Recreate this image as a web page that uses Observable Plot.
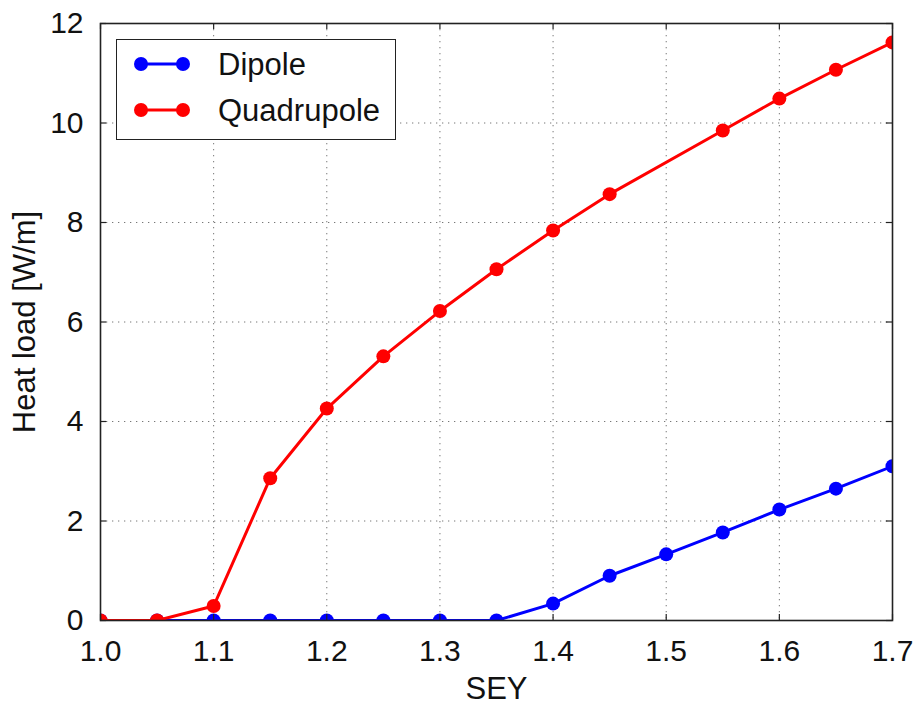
<!DOCTYPE html>
<html>
<head>
<meta charset="utf-8">
<script src="https://cdn.jsdelivr.net/npm/d3@7"></script>
<script src="https://cdn.jsdelivr.net/npm/@observablehq/plot@0.6"></script>
<style>
  html, body { margin: 0; padding: 0; background: #fff; }
  #wrap { position: relative; width: 914px; height: 704px; font-family: "Liberation Sans", Arial, Helvetica, sans-serif; }
  #wrap svg text { }
  #legend { position: absolute; left: 116px; top: 39px; width: 278px; height: 99px; border: 1.5px solid #222; background: #fff; }
  .entry { position: absolute; left: 0; height: 40px; display: flex; align-items: center; }
  .entry span { position: absolute; left: 101px; font-size: 31px; color: #111; white-space: nowrap; line-height: 1; }
</style>
</head>
<body>
<div id="wrap"></div>
<script>
const seyDipole = [1.0, 1.05, 1.1, 1.15, 1.2, 1.25, 1.3, 1.35, 1.4, 1.45, 1.5, 1.55, 1.6, 1.65, 1.7];
const dipole    = [0, 0, 0, 0, 0, 0, 0, 0, 0.34, 0.90, 1.33, 1.77, 2.23, 2.65, 3.10];
const seyQuad   = [1.0, 1.05, 1.1, 1.15, 1.2, 1.25, 1.3, 1.35, 1.4, 1.45, 1.55, 1.6, 1.65, 1.7];
const quadrupole = [0, 0, 0.29, 2.86, 4.26, 5.31, 6.22, 7.06, 7.84, 8.57, 9.85, 10.49, 11.07, 11.62];
const xTicks = [1.0, 1.1, 1.2, 1.3, 1.4, 1.5, 1.6, 1.7];
const yTicks = [0, 2, 4, 6, 8, 10, 12];
const seriesNames = ["Dipole", "Quadrupole"];
const seriesColors = ["#0000ff", "#ff0000"];

const dip = seyDipole.map((x, i) => ({x, y: dipole[i]}));
const quad = seyQuad.map((x, i) => ({x, y: quadrupole[i]}));

const grid = {stroke: "#777", strokeOpacity: 1, strokeWidth: 1, strokeDasharray: "1.3,4.7"};
const tx = 0.12, ty = 0.0055;

const chart = Plot.plot({
  width: 914,
  height: 704,
  marginTop: 23,
  marginRight: 22,
  marginBottom: 84,
  marginLeft: 100,
  style: {fontFamily: "'Liberation Sans', Arial, Helvetica, sans-serif", fontSize: "30px", color: "#111", background: "#fff"},
  x: {domain: [1.0, 1.7]},
  y: {domain: [0, 12]},
  marks: [
    Plot.ruleX(xTicks.slice(1, -1), {...grid}),
    Plot.ruleY(yTicks.slice(1, -1), {...grid}),
    Plot.axisX(xTicks, {tickSize: 0, tickPadding: 19, tickFormat: d => d.toFixed(1), label: null}),
    Plot.axisY(yTicks, {tickSize: 0, tickPadding: 17, tickFormat: d => String(d), label: null}),
    Plot.axisX({tickSize: 0, ticks: [], label: "SEY", labelAnchor: "center", labelArrow: "none", labelOffset: 78, fontSize: 31}),
    Plot.axisY({tickSize: 0, ticks: [], label: "Heat load [W/m]", labelAnchor: "center", labelArrow: "none", labelOffset: 88, fontSize: 31}),
    Plot.line(dip, {x: "x", y: "y", stroke: seriesColors[0], strokeWidth: 3, clip: true}),
    Plot.dot(dip, {x: "x", y: "y", r: 7, fill: seriesColors[0], clip: true}),
    Plot.line(quad, {x: "x", y: "y", stroke: seriesColors[1], strokeWidth: 3, clip: true}),
    Plot.dot(quad, {x: "x", y: "y", r: 7, fill: seriesColors[1], clip: true}),
    Plot.ruleX(xTicks, {y1: 0, y2: tx, stroke: "#222", strokeWidth: 1.2}),
    Plot.ruleX(xTicks, {y1: 12 - tx, y2: 12, stroke: "#222", strokeWidth: 1.2}),
    Plot.ruleY(yTicks, {x1: 1.0, x2: 1.0 + ty, stroke: "#222", strokeWidth: 1.2}),
    Plot.ruleY(yTicks, {x1: 1.7 - ty, x2: 1.7, stroke: "#222", strokeWidth: 1.2}),
    Plot.frame({stroke: "#222", strokeWidth: 1.6})
  ]
});

const wrap = document.getElementById("wrap");
wrap.appendChild(chart);

const legend = document.createElement("div");
legend.id = "legend";
seriesNames.forEach((name, i) => {
  const e = document.createElement("div");
  e.className = "entry";
  e.style.top = (i === 0 ? 4 : 50) + "px";
  e.style.width = "278px";
  e.innerHTML = `<svg width="90" height="40" style="position:absolute;left:0;top:0">
      <line x1="24" y1="20" x2="66" y2="20" stroke="${seriesColors[i]}" stroke-width="3"/>
      <circle cx="24" cy="20" r="7" fill="${seriesColors[i]}"/>
      <circle cx="66" cy="20" r="7" fill="${seriesColors[i]}"/>
    </svg><span>${name}</span>`;
  legend.appendChild(e);
});
wrap.appendChild(legend);
</script>
</body>
</html>
